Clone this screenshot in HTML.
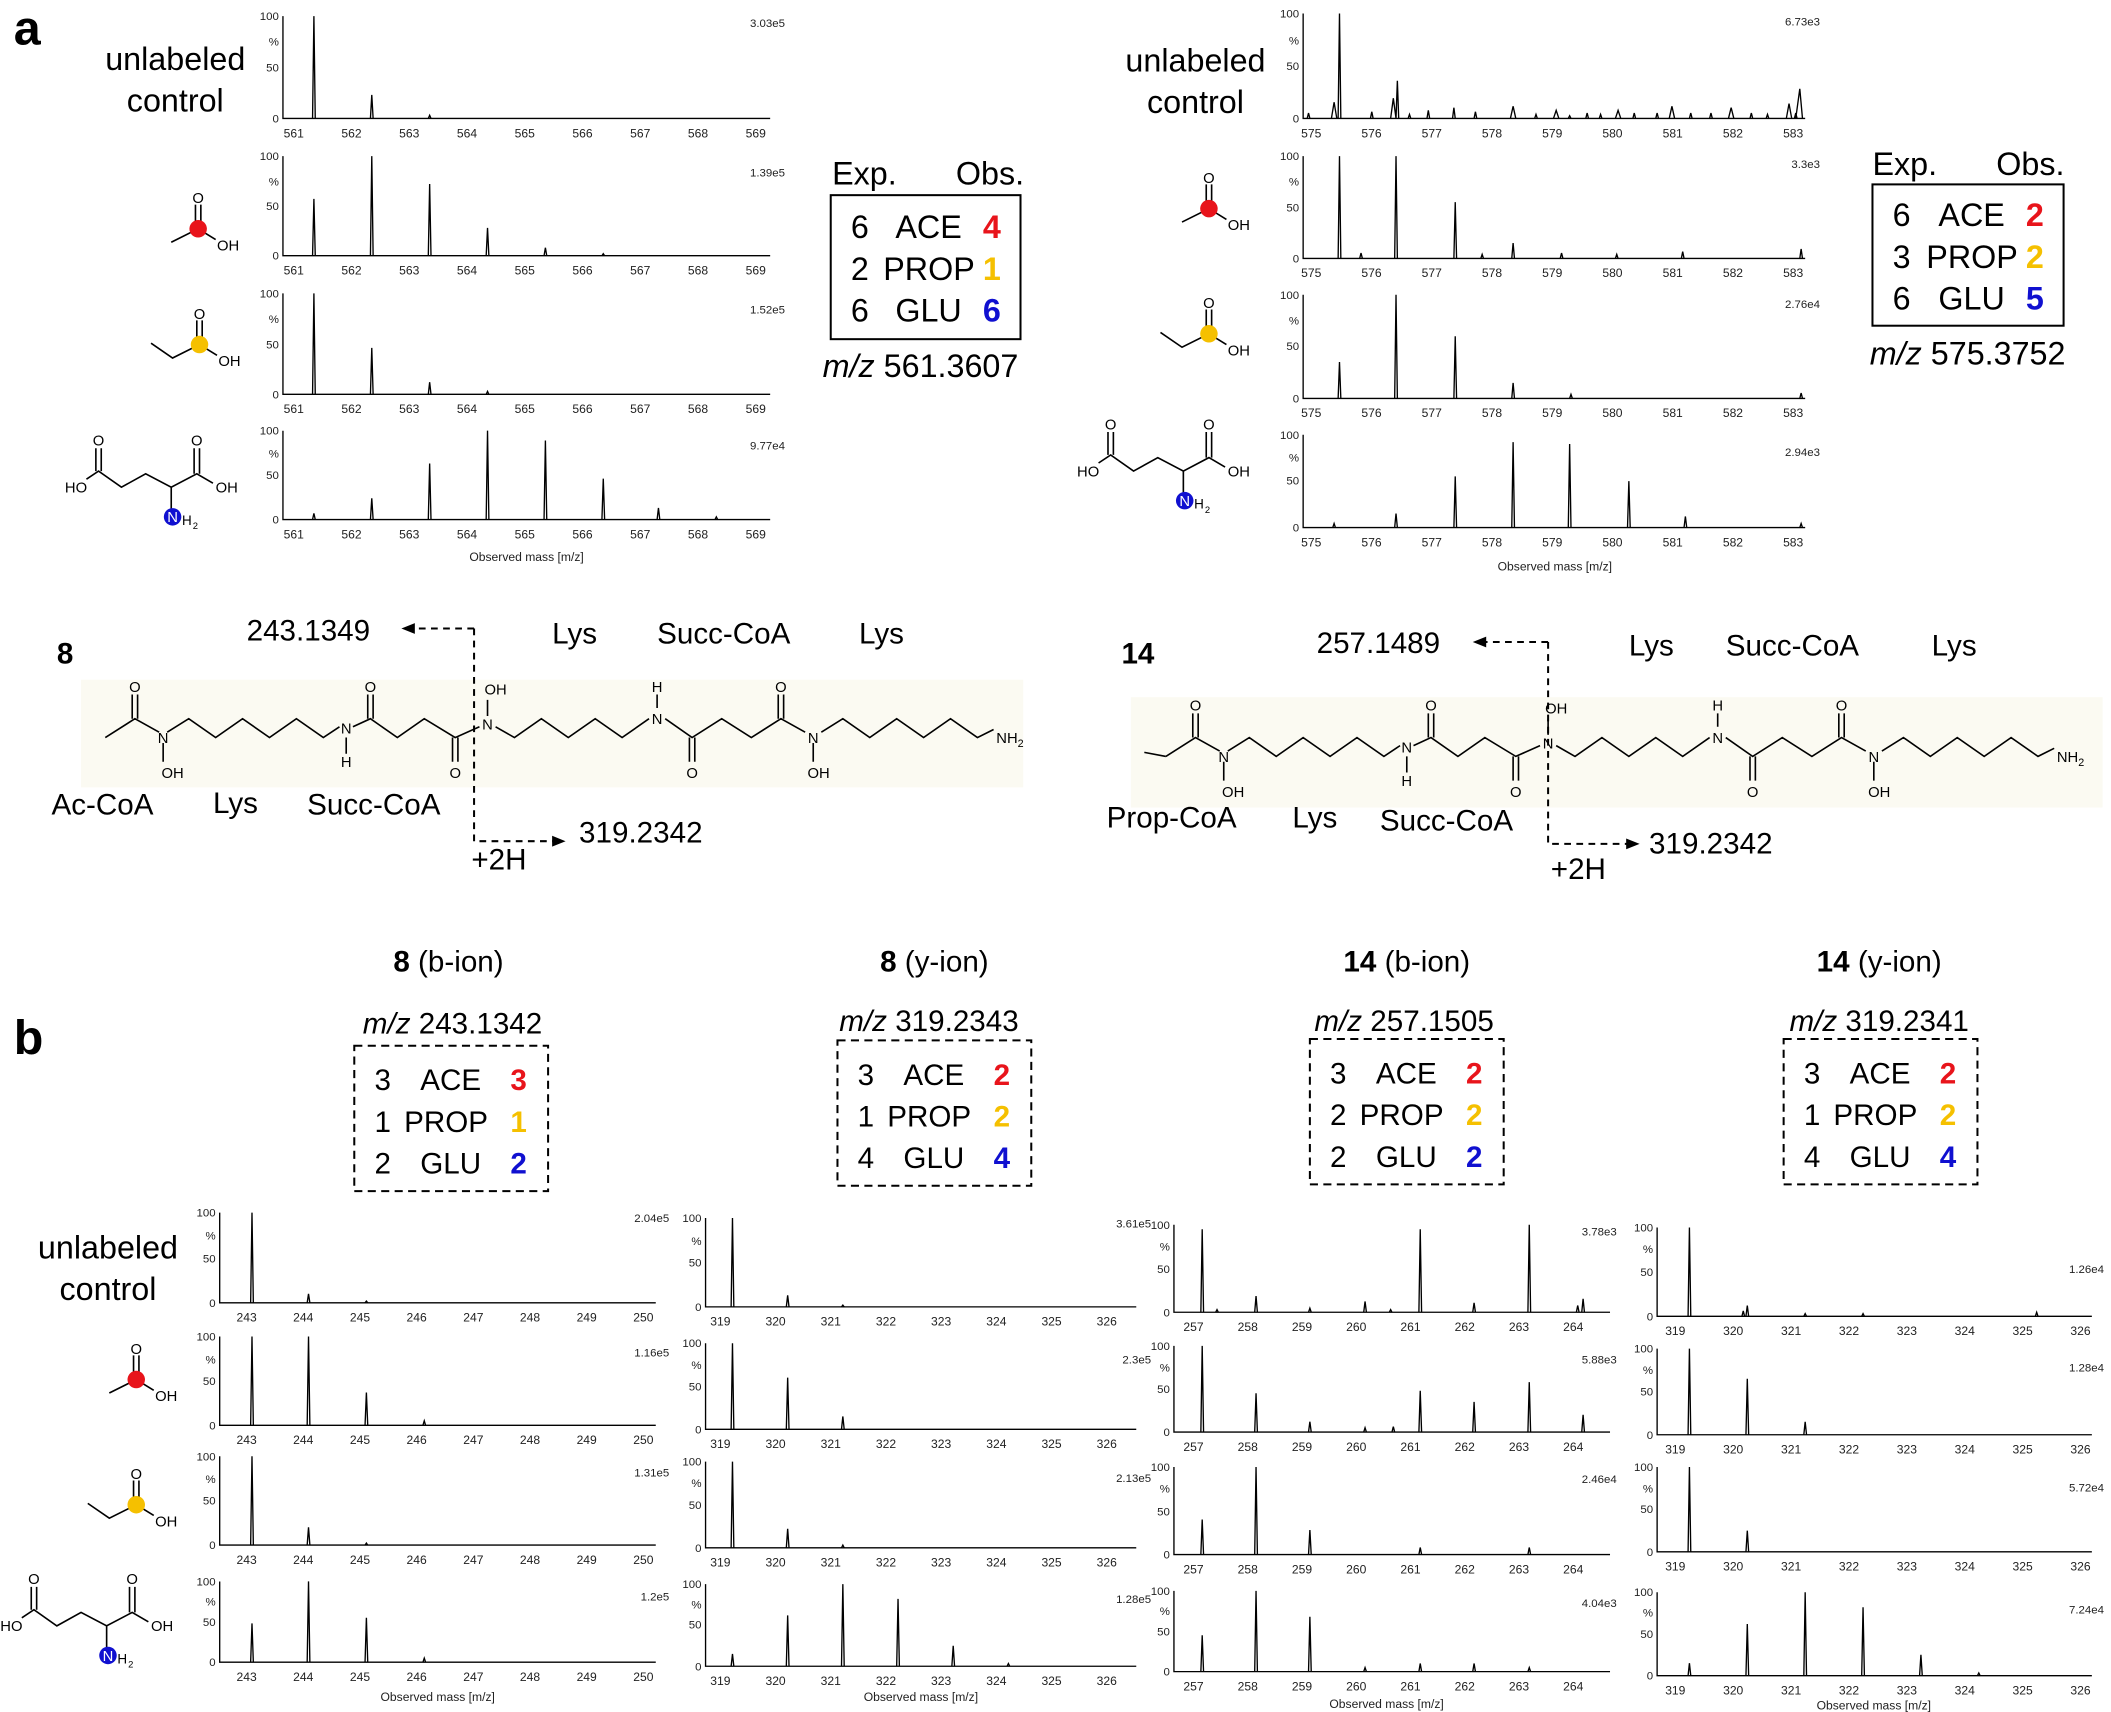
<!DOCTYPE html>
<html><head><meta charset="utf-8"><style>
html,body{margin:0;padding:0;background:#fff}
svg{display:block}
text{font-family:"Liberation Sans",sans-serif;fill:#000}
.ax{stroke:#000;stroke-width:1;fill:none}
.pk{stroke:#000;stroke-width:1;fill:none}
.yl{font-size:8.5px;text-anchor:end;fill:#222}
.xl{font-size:9px;word-spacing:25.4px;fill:#222}
.sc{font-size:8.5px;text-anchor:end;fill:#222}
.big{font-size:24px}
.mid{font-size:22px}
.at{font-size:11px}
.bd{stroke:#000;stroke-width:1.2;fill:none}
.ds{stroke:#000;stroke-width:1.5;fill:none;stroke-dasharray:5 4}
.om{font-size:9px;text-anchor:middle;fill:#222}
</style></head><body>
<svg width="2111" height="1712" viewBox="0 0 1568 1272" xmlns="http://www.w3.org/2000/svg">
<rect width="1568" height="1272" fill="#fff"/>
<text x="10" y="33" style="font-size:36px;font-weight:bold">a</text>
<text x="10" y="783" style="font-size:36px;font-weight:bold">b</text>

<text x="130" y="52" class="big" text-anchor="middle">unlabeled</text>
<text x="130" y="83" class="big" text-anchor="middle">control</text>
<text x="888" y="53" class="big" text-anchor="middle">unlabeled</text>
<text x="888" y="84" class="big" text-anchor="middle">control</text>
<text x="80" y="935" class="big" text-anchor="middle">unlabeled</text>
<text x="80" y="966" class="big" text-anchor="middle">control</text>

<g>
<path class="bd" d="M127 180L147 170L160 178M145 170V152M149 170V152"/><circle cx="147" cy="170" r="6.5" fill="#e8141b"/>
<text x="147" y="151" class="at" text-anchor="middle">O</text><text x="161" y="186" class="at">OH</text></g>
<g transform="translate(751,-15)"><path class="bd" d="M127 180L147 170L160 178M145 170V152M149 170V152"/><circle cx="147" cy="170" r="6.5" fill="#e8141b"/>
<text x="147" y="151" class="at" text-anchor="middle">O</text><text x="161" y="186" class="at">OH</text></g>
<g transform="translate(-46,855)"><path class="bd" d="M127 180L147 170L160 178M145 170V152M149 170V152"/><circle cx="147" cy="170" r="6.5" fill="#e8141b"/>
<text x="147" y="151" class="at" text-anchor="middle">O</text><text x="161" y="186" class="at">OH</text></g>

<g><path class="bd" d="M112 255L128 266L148 256L161 264M146 256V238M150 256V238"/><circle cx="148" cy="256" r="6.5" fill="#f5c000"/>
<text x="148" y="237" class="at" text-anchor="middle">O</text><text x="162" y="272" class="at">OH</text></g>
<g transform="translate(750,-8)"><path class="bd" d="M112 255L128 266L148 256L161 264M146 256V238M150 256V238"/><circle cx="148" cy="256" r="6.5" fill="#f5c000"/>
<text x="148" y="237" class="at" text-anchor="middle">O</text><text x="162" y="272" class="at">OH</text></g>
<g transform="translate(-47,862)"><path class="bd" d="M112 255L128 266L148 256L161 264M146 256V238M150 256V238"/><circle cx="148" cy="256" r="6.5" fill="#f5c000"/>
<text x="148" y="237" class="at" text-anchor="middle">O</text><text x="162" y="272" class="at">OH</text></g>

<g><text x="48" y="366" class="at">HO</text>
<path class="bd" d="M64 356L73 350L90 362L108 352L127 362L146 352L158 359M71 350V333M75 350V333M144 352V333M148 352V333M127 362V378"/>
<text x="73" y="331" class="at" text-anchor="middle">O</text><text x="146" y="331" class="at" text-anchor="middle">O</text>
<text x="160" y="366" class="at">OH</text>
<circle cx="128" cy="384" r="6.5" fill="#1010d0"/><text x="128" y="388" class="at" text-anchor="middle" style="fill:#fff">N</text><text x="135" y="390" style="font-size:10px">H</text><text x="143" y="393" style="font-size:7px">2</text></g>
<g transform="translate(752,-12)"><text x="48" y="366" class="at">HO</text>
<path class="bd" d="M64 356L73 350L90 362L108 352L127 362L146 352L158 359M71 350V333M75 350V333M144 352V333M148 352V333M127 362V378"/>
<text x="73" y="331" class="at" text-anchor="middle">O</text><text x="146" y="331" class="at" text-anchor="middle">O</text>
<text x="160" y="366" class="at">OH</text>
<circle cx="128" cy="384" r="6.5" fill="#1010d0"/><text x="128" y="388" class="at" text-anchor="middle" style="fill:#fff">N</text><text x="135" y="390" style="font-size:10px">H</text><text x="143" y="393" style="font-size:7px">2</text></g>
<g transform="translate(-48,846)"><text x="48" y="366" class="at">HO</text>
<path class="bd" d="M64 356L73 350L90 362L108 352L127 362L146 352L158 359M71 350V333M75 350V333M144 352V333M148 352V333M127 362V378"/>
<text x="73" y="331" class="at" text-anchor="middle">O</text><text x="146" y="331" class="at" text-anchor="middle">O</text>
<text x="160" y="366" class="at">OH</text>
<circle cx="128" cy="384" r="6.5" fill="#1010d0"/><text x="128" y="388" class="at" text-anchor="middle" style="fill:#fff">N</text><text x="135" y="390" style="font-size:10px">H</text><text x="143" y="393" style="font-size:7px">2</text></g>

<!-- ===== panel a left ===== -->
<g>
<path class="ax" d="M210 12V88H572M210 116V190H572M210 218V293H572M210 320V386H572"/>
<path class="pk" d="M232 88L233 12L234 88M275 88L276 70.5L277 88M318 88L319 85.7L320 88"/>
<path class="pk" d="M232 190L233 147.8L234 190M275 190L276 116L277 190M318 190L319 136.7L320 190M361 190L362 169.3L363 190M404 190L405 184.1L406 190M447 190L448 188.5L449 190"/>
<path class="pk" d="M232 293L233 218L234 293M275 293L276 258.5L277 293M318 293L319 284L320 293M361 293L362 290.8L363 293"/>
<path class="pk" d="M232 386L233 381.4L234 386M275 386L276 370.2L277 386M318 386L319 344.4L320 386M361 386L362 320L363 386M404 386L405 327.3L406 386M447 386L448 355.6L449 386M488 386L489 377.4L490 386M531 386L532 384L533 386"/>
<text class="yl" x="207" y="15">100</text><text class="yl" x="207" y="34">%</text><text class="yl" x="207" y="53">50</text><text class="yl" x="207" y="91">0</text>
<text class="yl" x="207" y="119">100</text><text class="yl" x="207" y="138">%</text><text class="yl" x="207" y="156">50</text><text class="yl" x="207" y="193">0</text>
<text class="yl" x="207" y="221">100</text><text class="yl" x="207" y="240">%</text><text class="yl" x="207" y="259">50</text><text class="yl" x="207" y="296">0</text>
<text class="yl" x="207" y="323">100</text><text class="yl" x="207" y="340">%</text><text class="yl" x="207" y="356">50</text><text class="yl" x="207" y="389">0</text>
<text class="xl" x="210.5" y="102">561 562 563 564 565 566 567 568 569</text>
<text class="xl" x="210.5" y="204">561 562 563 564 565 566 567 568 569</text>
<text class="xl" x="210.5" y="307">561 562 563 564 565 566 567 568 569</text>
<text class="xl" x="210.5" y="400">561 562 563 564 565 566 567 568 569</text>
<text class="sc" x="583" y="20">3.03e5</text><text class="sc" x="583" y="131">1.39e5</text><text class="sc" x="583" y="233">1.52e5</text><text class="sc" x="583" y="334">9.77e4</text>
<text class="om" x="391" y="417">Observed mass [m/z]</text>
</g>

<!-- ===== panel a right ===== -->
<g>
<path class="ax" d="M968 10V88H1341M968 116V192H1341M968 219V296H1341M968 323V392H1341"/>
<path class="pk" d="M994 88L995 10L996 88M989 88L991 76L993 88M1033 88L1035 73L1037 88M1037 88L1038 60L1039 88M1079 88L1080 80L1081 88M1060 88L1061 82L1062 88M1095 88L1096 83L1097 88M1122 88L1124 79L1126 88M1154 88L1156 82L1158 88M1165 88L1166 86L1167 88M1200 88L1202 82L1204 88M1213 88L1214 84L1215 88M1240 88L1242 79L1244 88M1255 88L1256 84L1257 88M1284 88L1286 80L1288 88M1327 88L1329 77L1331 88M1333 88L1334 84L1335 88M1334 88L1337 66L1339 88M971 88L972 84L973 88M1018 88L1019 83L1020 88M1046 88L1047 85L1048 88M1140 88L1141 85L1142 88M1178 88L1179 84L1180 88M1188 88L1189 85L1190 88M1230 88L1231 84L1232 88M1270 88L1271 84L1272 88M1300 88L1301 84L1302 88M1312 88L1313 85L1314 88"/>
<path class="pk" d="M994 192L995 116L996 192M1036 192L1037 116L1038 192M1080 192L1081 150.2L1082 192M1123 192L1124 180.6L1125 192M1159 192L1160 188L1161 192M1249 192L1250 187L1251 192M1337 192L1338 185L1339 192M1010 192L1011 188L1012 192M1100 192L1101 189L1102 192M1200 192L1201 189L1202 192"/>
<path class="pk" d="M994 296L995 269L996 296M1036 296L1037 219L1038 296M1080 296L1081 249.8L1082 296M1123 296L1124 284.5L1125 296M1166 296L1167 293L1168 296M1337 296L1338 292L1339 296"/>
<path class="pk" d="M1036 392L1037 381.6L1038 392M1080 392L1081 354L1082 392M1123 392L1124 328.5L1125 392M1165 392L1166 329.9L1167 392M1209 392L1210 357.5L1211 392M1251 392L1252 383.7L1253 392M1337 392L1338 389L1339 392M990 392L991 389L992 392"/>
<text class="yl" x="965" y="13">100</text><text class="yl" x="965" y="33">%</text><text class="yl" x="965" y="52">50</text><text class="yl" x="965" y="91">0</text>
<text class="yl" x="965" y="119">100</text><text class="yl" x="965" y="138">%</text><text class="yl" x="965" y="157">50</text><text class="yl" x="965" y="195">0</text>
<text class="yl" x="965" y="222">100</text><text class="yl" x="965" y="241">%</text><text class="yl" x="965" y="260">50</text><text class="yl" x="965" y="299">0</text>
<text class="yl" x="965" y="326">100</text><text class="yl" x="965" y="343">%</text><text class="yl" x="965" y="360">50</text><text class="yl" x="965" y="395">0</text>
<text class="xl" x="966.5" y="102" style="word-spacing:27.25px">575 576 577 578 579 580 581 582 583</text>
<text class="xl" x="966.5" y="206" style="word-spacing:27.25px">575 576 577 578 579 580 581 582 583</text>
<text class="xl" x="966.5" y="310" style="word-spacing:27.25px">575 576 577 578 579 580 581 582 583</text>
<text class="xl" x="966.5" y="406" style="word-spacing:27.25px">575 576 577 578 579 580 581 582 583</text>
<text class="sc" x="1352" y="19">6.73e3</text><text class="sc" x="1352" y="125">3.3e3</text><text class="sc" x="1352" y="229">2.76e4</text><text class="sc" x="1352" y="339">2.94e3</text>
<text class="om" x="1155" y="424">Observed mass [m/z]</text>
</g>

<!-- legends a -->
<text x="618" y="137" class="big">Exp.</text><text x="710" y="137" class="big">Obs.</text>
<rect x="617" y="145" width="141" height="107" fill="none" stroke="#000" stroke-width="1.5"/>
<text x="632" y="177" class="big">6</text><text x="665" y="177" class="big">ACE</text><text x="730" y="177" class="big" style="fill:#e8141b;font-weight:bold">4</text>
<text x="632" y="208" class="big">2</text><text x="656" y="208" class="big">PROP</text><text x="730" y="208" class="big" style="fill:#f5c000;font-weight:bold">1</text>
<text x="632" y="239" class="big">6</text><text x="665" y="239" class="big">GLU</text><text x="730" y="239" class="big" style="fill:#1010d0;font-weight:bold">6</text>
<text x="611" y="280" class="big"><tspan font-style="italic">m/z</tspan> 561.3607</text>

<text x="1391" y="130" class="big">Exp.</text><text x="1483" y="130" class="big">Obs.</text>
<rect x="1391" y="137" width="142" height="105" fill="none" stroke="#000" stroke-width="1.5"/>
<text x="1406" y="168" class="big">6</text><text x="1440" y="168" class="big">ACE</text><text x="1505" y="168" class="big" style="fill:#e8141b;font-weight:bold">2</text>
<text x="1406" y="199" class="big">3</text><text x="1431" y="199" class="big">PROP</text><text x="1505" y="199" class="big" style="fill:#f5c000;font-weight:bold">2</text>
<text x="1406" y="230" class="big">6</text><text x="1440" y="230" class="big">GLU</text><text x="1505" y="230" class="big" style="fill:#1010d0;font-weight:bold">5</text>
<text x="1389" y="271" class="big"><tspan font-style="italic">m/z</tspan> 575.3752</text>

<!-- ===== structures ===== -->
<rect x="60" y="505" width="700" height="80" fill="#fbfaf2"/>
<rect x="840" y="518" width="722" height="82" fill="#fbfaf2"/>
<text x="42" y="493" style="font-size:22px;font-weight:bold">8</text>
<g>
<path class="bd" d="M78 548L100 534L118 544M124 544L140 534L160 548L180 534L200 548L220 534L240 548L252 540M262 540L275 534L295 548L315 534L338 548L356 540M368 540L382 548L402 534L422 548L442 534L462 548L482 534M494 534L514 548L536 534L558 548L580 534L598 544M610 544L626 534L646 548L666 534L686 548L706 534L726 548L738 542"/>
<path class="bd" d="M98 534V516M102 534V516M273 534V516M277 534V516M336 548V566M340 548V566M512 548V566M516 548V566M578 534V516M582 534V516M121 552V566M257 548V560M362 532V520M488 526V516M604 552V566"/>
<text x="100" y="514" class="at" text-anchor="middle">O</text>
<text x="121" y="552" class="at" text-anchor="middle">N</text><text x="128" y="578" class="at" text-anchor="middle">OH</text>
<text x="257" y="545" class="at" text-anchor="middle">N</text><text x="257" y="570" class="at" text-anchor="middle">H</text>
<text x="275" y="514" class="at" text-anchor="middle">O</text>
<text x="338" y="578" class="at" text-anchor="middle">O</text>
<text x="362" y="542" class="at" text-anchor="middle">N</text><text x="368" y="516" class="at" text-anchor="middle">OH</text>
<text x="488" y="538" class="at" text-anchor="middle">N</text><text x="488" y="514" class="at" text-anchor="middle">H</text>
<text x="514" y="578" class="at" text-anchor="middle">O</text>
<text x="580" y="514" class="at" text-anchor="middle">O</text>
<text x="604" y="552" class="at" text-anchor="middle">N</text><text x="608" y="578" class="at" text-anchor="middle">OH</text>
<text x="740" y="552" class="at">NH<tspan font-size="8" dy="3">2</tspan></text>
</g>
<g transform="translate(788,14)">
<path class="bd" d="M62 545L78 548"/>
<path class="bd" d="M78 548L100 534L118 544M124 544L140 534L160 548L180 534L200 548L220 534L240 548L252 540M262 540L275 534L295 548L315 534L338 548L356 540M368 540L382 548L402 534L422 548L442 534L462 548L482 534M494 534L514 548L536 534L558 548L580 534L598 544M610 544L626 534L646 548L666 534L686 548L706 534L726 548L738 542"/>
<path class="bd" d="M98 534V516M102 534V516M273 534V516M277 534V516M336 548V566M340 548V566M512 548V566M516 548V566M578 534V516M582 534V516M121 552V566M257 548V560M362 532V520M488 526V516M604 552V566"/>
<text x="100" y="514" class="at" text-anchor="middle">O</text>
<text x="121" y="552" class="at" text-anchor="middle">N</text><text x="128" y="578" class="at" text-anchor="middle">OH</text>
<text x="257" y="545" class="at" text-anchor="middle">N</text><text x="257" y="570" class="at" text-anchor="middle">H</text>
<text x="275" y="514" class="at" text-anchor="middle">O</text>
<text x="338" y="578" class="at" text-anchor="middle">O</text>
<text x="362" y="542" class="at" text-anchor="middle">N</text><text x="368" y="516" class="at" text-anchor="middle">OH</text>
<text x="488" y="538" class="at" text-anchor="middle">N</text><text x="488" y="514" class="at" text-anchor="middle">H</text>
<text x="514" y="578" class="at" text-anchor="middle">O</text>
<text x="580" y="514" class="at" text-anchor="middle">O</text>
<text x="604" y="552" class="at" text-anchor="middle">N</text><text x="608" y="578" class="at" text-anchor="middle">OH</text>
<text x="740" y="552" class="at">NH<tspan font-size="8" dy="3">2</tspan></text>
</g>

<text x="183" y="476" class="mid">243.1349</text>
<path class="ds" d="M352 467H305M352 467V625H412"/>
<path d="M298 467L308 463V471Z M420 625L410 621V629Z" fill="#000"/>
<text x="410" y="478" class="mid">Lys</text><text x="488" y="478" class="mid">Succ-CoA</text><text x="638" y="478" class="mid">Lys</text>
<text x="38" y="605" class="mid">Ac-CoA</text><text x="158" y="604" class="mid">Lys</text><text x="228" y="605" class="mid">Succ-CoA</text>
<text x="430" y="626" class="mid">319.2342</text><text x="350" y="646" class="mid">+2H</text>

<text x="833" y="493" style="font-size:22px;font-weight:bold">14</text>
<text x="978" y="485" class="mid">257.1489</text>
<path class="ds" d="M1150 477H1102M1150 477V627H1210"/>
<path d="M1094 477L1104 473V481Z M1218 627L1208 623V631Z" fill="#000"/>
<text x="1210" y="487" class="mid">Lys</text><text x="1282" y="487" class="mid">Succ-CoA</text><text x="1435" y="487" class="mid">Lys</text>
<text x="822" y="615" class="mid">Prop-CoA</text><text x="960" y="615" class="mid">Lys</text><text x="1025" y="617" class="mid">Succ-CoA</text>
<text x="1225" y="634" class="mid">319.2342</text><text x="1152" y="653" class="mid">+2H</text>

<!-- ===== b titles & legends ===== -->
<text x="333" y="722" class="mid" text-anchor="middle"><tspan font-weight="bold">8</tspan> (b-ion)</text>
<text x="694" y="722" class="mid" text-anchor="middle"><tspan font-weight="bold">8</tspan> (y-ion)</text>
<text x="1045" y="722" class="mid" text-anchor="middle"><tspan font-weight="bold">14</tspan> (b-ion)</text>
<text x="1396" y="722" class="mid" text-anchor="middle"><tspan font-weight="bold">14</tspan> (y-ion)</text>
<text x="336" y="768" class="mid" text-anchor="middle"><tspan font-style="italic">m/z</tspan> 243.1342</text>
<text x="690" y="766" class="mid" text-anchor="middle"><tspan font-style="italic">m/z</tspan> 319.2343</text>
<text x="1043" y="766" class="mid" text-anchor="middle"><tspan font-style="italic">m/z</tspan> 257.1505</text>
<text x="1396" y="766" class="mid" text-anchor="middle"><tspan font-style="italic">m/z</tspan> 319.2341</text>

<g>
<rect x="263" y="777" width="144" height="108" fill="none" stroke="#000" stroke-width="1.5" stroke-dasharray="6 4"/>
<text x="278" y="810" class="mid">3</text><text x="312" y="810" class="mid">ACE</text><text x="379" y="810" class="mid" style="fill:#e8141b;font-weight:bold">3</text>
<text x="278" y="841" class="mid">1</text><text x="300" y="841" class="mid">PROP</text><text x="379" y="841" class="mid" style="fill:#f5c000;font-weight:bold">1</text>
<text x="278" y="872" class="mid">2</text><text x="312" y="872" class="mid">GLU</text><text x="379" y="872" class="mid" style="fill:#1010d0;font-weight:bold">2</text>
</g>
<g transform="translate(359,-4)">
<rect x="263" y="777" width="144" height="108" fill="none" stroke="#000" stroke-width="1.5" stroke-dasharray="6 4"/>
<text x="278" y="810" class="mid">3</text><text x="312" y="810" class="mid">ACE</text><text x="379" y="810" class="mid" style="fill:#e8141b;font-weight:bold">2</text>
<text x="278" y="841" class="mid">1</text><text x="300" y="841" class="mid">PROP</text><text x="379" y="841" class="mid" style="fill:#f5c000;font-weight:bold">2</text>
<text x="278" y="872" class="mid">4</text><text x="312" y="872" class="mid">GLU</text><text x="379" y="872" class="mid" style="fill:#1010d0;font-weight:bold">4</text>
</g>
<g transform="translate(710,-5)">
<rect x="263" y="777" width="144" height="108" fill="none" stroke="#000" stroke-width="1.5" stroke-dasharray="6 4"/>
<text x="278" y="810" class="mid">3</text><text x="312" y="810" class="mid">ACE</text><text x="379" y="810" class="mid" style="fill:#e8141b;font-weight:bold">2</text>
<text x="278" y="841" class="mid">2</text><text x="300" y="841" class="mid">PROP</text><text x="379" y="841" class="mid" style="fill:#f5c000;font-weight:bold">2</text>
<text x="278" y="872" class="mid">2</text><text x="312" y="872" class="mid">GLU</text><text x="379" y="872" class="mid" style="fill:#1010d0;font-weight:bold">2</text>
</g>
<g transform="translate(1062,-5)">
<rect x="263" y="777" width="144" height="108" fill="none" stroke="#000" stroke-width="1.5" stroke-dasharray="6 4"/>
<text x="278" y="810" class="mid">3</text><text x="312" y="810" class="mid">ACE</text><text x="379" y="810" class="mid" style="fill:#e8141b;font-weight:bold">2</text>
<text x="278" y="841" class="mid">1</text><text x="300" y="841" class="mid">PROP</text><text x="379" y="841" class="mid" style="fill:#f5c000;font-weight:bold">2</text>
<text x="278" y="872" class="mid">4</text><text x="312" y="872" class="mid">GLU</text><text x="379" y="872" class="mid" style="fill:#1010d0;font-weight:bold">4</text>
</g>

<!-- ===== b col1 ===== -->
<g>
<path class="ax" d="M163 901V968H487M163 993V1059H487M163 1082V1148H487M163 1175V1235H487"/>
<path class="pk" d="M186 968L187 901L188 968M228 968L229 961.3L230 968M271 968L272 966.7L273 968"/>
<path class="pk" d="M186 1059L187 993L188 1059M228 1059L229 993L230 1059M271 1059L272 1034.6L273 1059M314 1059L315 1055.7L316 1059"/>
<path class="pk" d="M186 1148L187 1082L188 1148M228 1148L229 1134.8L230 1148M271 1148L272 1146.5L273 1148"/>
<path class="pk" d="M186 1235L187 1206.2L188 1235M228 1235L229 1175L230 1235M271 1235L272 1202L273 1235M314 1235L315 1232L316 1235"/>
<text class="yl" x="160" y="904">100</text><text class="yl" x="160" y="921">%</text><text class="yl" x="160" y="938">50</text><text class="yl" x="160" y="971">0</text>
<text class="yl" x="160" y="996">100</text><text class="yl" x="160" y="1013">%</text><text class="yl" x="160" y="1029">50</text><text class="yl" x="160" y="1062">0</text>
<text class="yl" x="160" y="1085">100</text><text class="yl" x="160" y="1102">%</text><text class="yl" x="160" y="1118">50</text><text class="yl" x="160" y="1151">0</text>
<text class="yl" x="160" y="1178">100</text><text class="yl" x="160" y="1193">%</text><text class="yl" x="160" y="1208">50</text><text class="yl" x="160" y="1238">0</text>
<text class="xl" x="175.5" y="982" style="word-spacing:24.6px">243 244 245 246 247 248 249 250</text>
<text class="xl" x="175.5" y="1073" style="word-spacing:24.6px">243 244 245 246 247 248 249 250</text>
<text class="xl" x="175.5" y="1162" style="word-spacing:24.6px">243 244 245 246 247 248 249 250</text>
<text class="xl" x="175.5" y="1249" style="word-spacing:24.6px">243 244 245 246 247 248 249 250</text>
<text class="sc" x="497" y="908">2.04e5</text><text class="sc" x="497" y="1008">1.16e5</text><text class="sc" x="497" y="1097">1.31e5</text><text class="sc" x="497" y="1189">1.2e5</text>
<text class="om" x="325" y="1264">Observed mass [m/z]</text>
</g>
<!-- ===== b col2 ===== -->
<g>
<path class="ax" d="M524 905V971H844M524 998V1062H844M524 1086V1150H844M524 1177V1238H844"/>
<path class="pk" d="M543 971L544 905L545 971M584 971L585 962.4L586 971M625 971L626 969.7L627 971"/>
<path class="pk" d="M543 1062L544 998L545 1062M584 1062L585 1023.6L586 1062M625 1062L626 1052.4L627 1062"/>
<path class="pk" d="M543 1150L544 1086L545 1150M584 1150L585 1135.9L586 1150M625 1150L626 1148L627 1150"/>
<path class="pk" d="M543 1238L544 1228.9L545 1238M584 1238L585 1200.2L586 1238M625 1238L626 1177L627 1238M666 1238L667 1188L668 1238M707 1238L708 1222.8L709 1238M748 1238L749 1236L750 1238"/>
<text class="yl" x="521" y="908">100</text><text class="yl" x="521" y="925">%</text><text class="yl" x="521" y="941">50</text><text class="yl" x="521" y="974">0</text>
<text class="yl" x="521" y="1001">100</text><text class="yl" x="521" y="1017">%</text><text class="yl" x="521" y="1033">50</text><text class="yl" x="521" y="1065">0</text>
<text class="yl" x="521" y="1089">100</text><text class="yl" x="521" y="1105">%</text><text class="yl" x="521" y="1121">50</text><text class="yl" x="521" y="1153">0</text>
<text class="yl" x="521" y="1180">100</text><text class="yl" x="521" y="1195">%</text><text class="yl" x="521" y="1210">50</text><text class="yl" x="521" y="1241">0</text>
<text class="xl" x="527.5" y="985" style="word-spacing:23.5px">319 320 321 322 323 324 325 326</text>
<text class="xl" x="527.5" y="1076" style="word-spacing:23.5px">319 320 321 322 323 324 325 326</text>
<text class="xl" x="527.5" y="1164" style="word-spacing:23.5px">319 320 321 322 323 324 325 326</text>
<text class="xl" x="527.5" y="1252" style="word-spacing:23.5px">319 320 321 322 323 324 325 326</text>
<text class="sc" x="855" y="912">3.61e5</text><text class="sc" x="855" y="1013">2.3e5</text><text class="sc" x="855" y="1101">2.13e5</text><text class="sc" x="855" y="1191">1.28e5</text>
<text class="om" x="684" y="1264">Observed mass [m/z]</text>
</g>
<!-- ===== b col3 ===== -->
<g>
<path class="ax" d="M872 910V975H1196M872 1000V1064H1196M872 1090V1155H1196M872 1182V1242H1196"/>
<path class="pk" d="M892 975L893 913.3L894 975M932 975L933 963L934 975M972 975L973 972L974 975M1013 975L1014 967L1015 975M1054 975L1055 913.3L1056 975M1094 975L1095 968L1096 975M1135 975L1136 910L1137 975M1175 975L1176 965L1177 975M1171 975L1172 970L1173 975M903 975L904 973L905 975M1032 975L1033 973L1034 975"/>
<path class="pk" d="M892 1064L893 1000L894 1064M932 1064L933 1035.2L934 1064M972 1064L973 1056.3L974 1064M1013 1064L1014 1060.8L1015 1064M1054 1064L1055 1033.3L1056 1064M1094 1064L1095 1041.6L1096 1064M1135 1064L1136 1026.9L1137 1064M1175 1064L1176 1051.2L1177 1064M1034 1064L1035 1060L1036 1064"/>
<path class="pk" d="M892 1155L893 1129L894 1155M932 1155L933 1090L934 1155M972 1155L973 1136.8L974 1155M1054 1155L1055 1149.8L1056 1155M1135 1155L1136 1149.8L1137 1155"/>
<path class="pk" d="M892 1242L893 1215L894 1242M932 1242L933 1182L934 1242M972 1242L973 1201.2L974 1242M1013 1242L1014 1239L1015 1242M1054 1242L1055 1236L1056 1242M1094 1242L1095 1236L1096 1242M1135 1242L1136 1239L1137 1242"/>
<text class="yl" x="869" y="913">100</text><text class="yl" x="869" y="929">%</text><text class="yl" x="869" y="946">50</text><text class="yl" x="869" y="978">0</text>
<text class="yl" x="869" y="1003">100</text><text class="yl" x="869" y="1019">%</text><text class="yl" x="869" y="1035">50</text><text class="yl" x="869" y="1067">0</text>
<text class="yl" x="869" y="1093">100</text><text class="yl" x="869" y="1109">%</text><text class="yl" x="869" y="1126">50</text><text class="yl" x="869" y="1158">0</text>
<text class="yl" x="869" y="1185">100</text><text class="yl" x="869" y="1200">%</text><text class="yl" x="869" y="1215">50</text><text class="yl" x="869" y="1245">0</text>
<text class="xl" x="879" y="989" style="word-spacing:22.8px">257 258 259 260 261 262 263 264</text>
<text class="xl" x="879" y="1078" style="word-spacing:22.8px">257 258 259 260 261 262 263 264</text>
<text class="xl" x="879" y="1169" style="word-spacing:22.8px">257 258 259 260 261 262 263 264</text>
<text class="xl" x="879" y="1256" style="word-spacing:22.8px">257 258 259 260 261 262 263 264</text>
<text class="sc" x="1201" y="918">3.78e3</text><text class="sc" x="1201" y="1013">5.88e3</text><text class="sc" x="1201" y="1102">2.46e4</text><text class="sc" x="1201" y="1194">4.04e3</text>
<text class="om" x="1030" y="1269">Observed mass [m/z]</text>
</g>
<!-- ===== b col4 ===== -->
<g>
<path class="ax" d="M1231 912V978H1554M1231 1002V1066H1554M1231 1090V1153H1554M1231 1183V1245H1554"/>
<path class="pk" d="M1254 978L1255 912L1256 978M1297 978L1298 970L1299 978M1294 978L1295 974L1296 978M1340 978L1341 976L1342 978M1383 978L1384 976L1385 978M1512 978L1513 975L1514 978"/>
<path class="pk" d="M1254 1066L1255 1002L1256 1066M1297 1066L1298 1024.4L1299 1066M1340 1066L1341 1056.4L1342 1066"/>
<path class="pk" d="M1254 1153L1255 1090L1256 1153M1297 1153L1298 1137.3L1299 1153"/>
<path class="pk" d="M1254 1245L1255 1235.7L1256 1245M1297 1245L1298 1206.6L1299 1245M1340 1245L1341 1183L1342 1245M1383 1245L1384 1194.2L1385 1245M1426 1245L1427 1229.5L1428 1245M1469 1245L1470 1243L1471 1245"/>
<text class="yl" x="1228" y="915">100</text><text class="yl" x="1228" y="931">%</text><text class="yl" x="1228" y="948">50</text><text class="yl" x="1228" y="981">0</text>
<text class="yl" x="1228" y="1005">100</text><text class="yl" x="1228" y="1021">%</text><text class="yl" x="1228" y="1037">50</text><text class="yl" x="1228" y="1069">0</text>
<text class="yl" x="1228" y="1093">100</text><text class="yl" x="1228" y="1109">%</text><text class="yl" x="1228" y="1124">50</text><text class="yl" x="1228" y="1156">0</text>
<text class="yl" x="1228" y="1186">100</text><text class="yl" x="1228" y="1201">%</text><text class="yl" x="1228" y="1217">50</text><text class="yl" x="1228" y="1248">0</text>
<text class="xl" x="1237" y="992" style="word-spacing:25.5px">319 320 321 322 323 324 325 326</text>
<text class="xl" x="1237" y="1080" style="word-spacing:25.5px">319 320 321 322 323 324 325 326</text>
<text class="xl" x="1237" y="1167" style="word-spacing:25.5px">319 320 321 322 323 324 325 326</text>
<text class="xl" x="1237" y="1259" style="word-spacing:25.5px">319 320 321 322 323 324 325 326</text>
<text class="sc" x="1563" y="946">1.26e4</text><text class="sc" x="1563" y="1019">1.28e4</text><text class="sc" x="1563" y="1108">5.72e4</text><text class="sc" x="1563" y="1199">7.24e4</text>
<text class="om" x="1392" y="1270">Observed mass [m/z]</text>
</g>
</svg>
</body></html>
